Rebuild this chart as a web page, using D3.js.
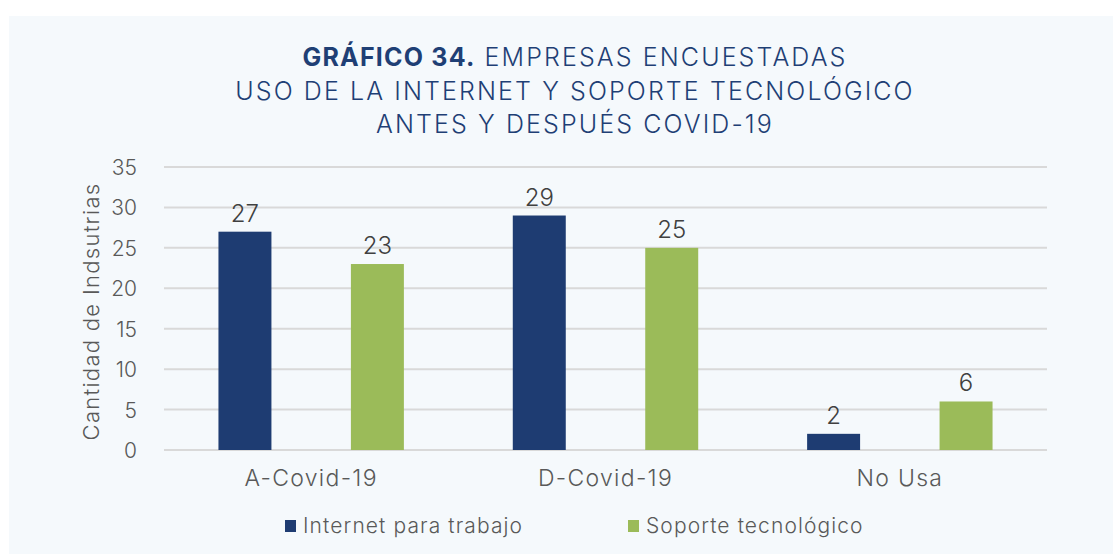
<!DOCTYPE html>
<html>
<head>
<meta charset="utf-8">
<script src="https://cdn.jsdelivr.net/npm/d3@7"></script>
<style>
  html, body { margin: 0; padding: 0; background: #ffffff; }
  svg { display: block; }
  text { font-family: Inter, "Open Sans", sans-serif; }
</style>
</head>
<body>
<svg id="chart" width="1113" height="554"></svg>
<script>
// Survey results: companies using internet / tech support before and after COVID-19
const categories = ["A-Covid-19", "D-Covid-19", "No Usa"];
const seriesNames = ["Internet para trabajo", "Soporte tecnológico"];
const internetValues = [27, 29, 2];
const soporteValues = [23, 25, 6];
const yTicks = [0, 5, 10, 15, 20, 25, 30, 35];
const titleLines = [
  { bold: "GRÁFICO 34.", rest: " EMPRESAS ENCUESTADAS" },
  { bold: "", rest: "USO DE LA INTERNET Y SOPORTE TECNOLÓGICO" },
  { bold: "", rest: "ANTES Y DESPUÉS COVID-19" }
];
const yAxisTitle = "Cantidad de Indsutrias";

const colors = ["#1e3c72", "#9bbb59"];
const navy = "#1f3f75";
const textGray = "#595959";

const svg = d3.select("#chart");
const W = 1113, H = 554;

// panel background
svg.append("rect").attr("x", 9).attr("y", 16).attr("width", W - 9).attr("height", H - 16)
  .attr("fill", "#f5f9fc");

const margin = { left: 164, right: 66, top: 167, bottom: 104 };
const plotW = W - margin.left - margin.right;
const plotH = H - margin.top - margin.bottom;

const g = svg.append("g").attr("transform", `translate(${margin.left},${margin.top})`);

const x0 = d3.scaleBand().domain(categories).range([0, plotW]).padding(0);
const bw = x0.bandwidth();
const x1 = d3.scaleBand().domain(seriesNames)
  .range([bw * 0.185, bw * 0.815]).paddingInner(0.6).paddingOuter(0);
const y = d3.scaleLinear().domain([0, 35]).range([plotH, 0]);

// gridlines
g.append("g").selectAll("line").data(yTicks).join("line")
  .attr("x1", 0).attr("x2", plotW)
  .attr("y1", d => y(d)).attr("y2", d => y(d))
  .attr("stroke", "#d9d9d9").attr("stroke-width", 2);

// y axis labels
const yAxis = d3.axisLeft(y).tickValues(yTicks).tickSize(0).tickPadding(27);
const ya = g.append("g").call(yAxis);
ya.select(".domain").remove();
ya.selectAll("text").attr("font-size", 21).attr("font-weight", 300).attr("fill", textGray)
  .attr("font-family", "Inter, sans-serif").attr("dy", "0.36em");

// x axis labels
const xAxis = d3.axisBottom(x0).tickSize(0).tickPadding(20);
const xa = g.append("g").attr("transform", `translate(0,${plotH})`).call(xAxis);
xa.select(".domain").remove();
xa.selectAll("text").attr("font-size", 23).attr("font-weight", 300).attr("fill", textGray)
  .attr("font-family", "Inter, sans-serif").attr("letter-spacing", 1.3);

// bars
const rows = categories.map((c, i) => ({ cat: c, vals: [internetValues[i], soporteValues[i]] }));
const groups = g.append("g").selectAll("g").data(rows).join("g")
  .attr("transform", d => `translate(${x0(d.cat)},0)`);

groups.selectAll("rect").data(d => d.vals.map((v, k) => ({ s: seriesNames[k], v, k })))
  .join("rect")
  .attr("x", d => x1(d.s)).attr("width", x1.bandwidth())
  .attr("y", d => y(d.v)).attr("height", d => plotH - y(d.v))
  .attr("fill", d => colors[d.k]);

groups.selectAll("text.val").data(d => d.vals.map((v, k) => ({ s: seriesNames[k], v, k })))
  .join("text").attr("class", "val")
  .attr("x", d => x1(d.s) + x1.bandwidth() / 2)
  .attr("y", d => y(d.v) - 10)
  .attr("text-anchor", "middle")
  .attr("font-size", 24).attr("font-weight", 300).attr("fill", "#404040")
  .text(d => d.v);

// y axis title
svg.append("text")
  .attr("transform", `translate(99,${margin.top + plotH / 2 + 3}) rotate(-90)`)
  .attr("text-anchor", "middle")
  .attr("font-size", 22).attr("font-weight", 300).attr("fill", textGray)
  .attr("letter-spacing", 1.3)
  .text(yAxisTitle);

// title
const titleBase = [66, 100, 133];
titleLines.forEach((ln, i) => {
  const t = svg.append("text").attr("x", 575).attr("y", titleBase[i])
    .attr("text-anchor", "middle").attr("font-size", 25).attr("fill", navy)
    .attr("letter-spacing", 2.1);
  if (ln.bold) t.append("tspan").attr("font-weight", 700).attr("letter-spacing", 1.2).text(ln.bold);
  t.append("tspan").attr("font-weight", 300).text(ln.rest);
});

// legend
const legendX = [285, 628];
const lg = svg.append("g");
seriesNames.forEach((s, k) => {
  lg.append("rect").attr("x", legendX[k]).attr("y", 520).attr("width", 11).attr("height", 12)
    .attr("fill", colors[k]);
  lg.append("text").attr("x", legendX[k] + 18).attr("y", 533)
    .attr("font-size", 21).attr("font-weight", 300).attr("fill", textGray)
    .attr("letter-spacing", 1.1).text(s);
});
</script>
</body>
</html>
